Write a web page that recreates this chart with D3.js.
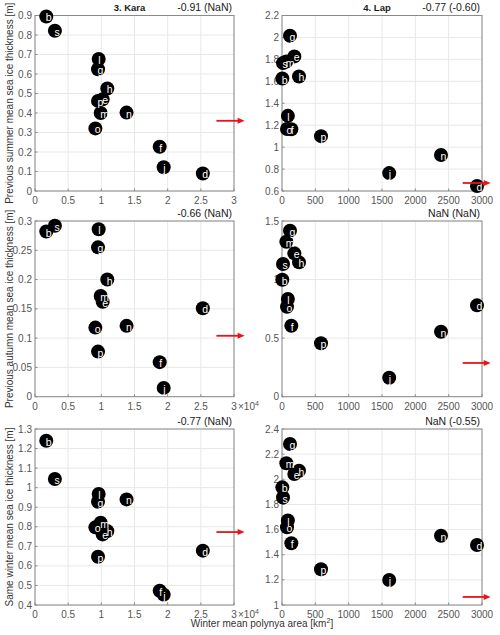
<!DOCTYPE html>
<html>
<head>
<meta charset="utf-8">
<script src="https://cdn.jsdelivr.net/npm/d3@7"></script>
<style>
  body { margin: 0; background: #fff; }
  text { font-family: "Liberation Sans", Arial, sans-serif; }
</style>
</head>
<body>
<svg id="fig" width="500" height="635"></svg>
<script>
// point labels, same order in every panel
const labels = ["b", "s", "l", "g", "h", "p", "e", "m", "n", "o", "f", "j", "d"];

// Kara: winter mean polynya area (x 10^4 km2) and thicknesses (m)
const karaArea   = [0.17, 0.30, 0.96, 0.95, 1.09, 0.95, 1.02, 0.99, 1.38, 0.91, 1.88, 1.94, 2.53];
const karaSummer = [0.895, 0.822, 0.677, 0.624, 0.526, 0.462, 0.470, 0.400, 0.402, 0.321, 0.227, 0.122, 0.090];
const karaAutumn = [0.282, 0.292, 0.286, 0.255, 0.200, 0.077, 0.162, 0.172, 0.121, 0.118, 0.059, 0.015, 0.151];
const karaWinter = [1.240, 1.044, 0.968, 0.928, 0.778, 0.647, 0.761, 0.821, 0.940, 0.797, 0.473, 0.453, 0.678];

// Laptev: winter mean polynya area (km2) and thicknesses (m)
const lapArea   = [5, 15, 88, 120, 255, 585, 185, 65, 2385, 75, 140, 1608, 2925];
const lapSummer = [1.625, 1.766, 1.285, 2.015, 1.644, 1.100, 1.827, 1.780, 0.928, 1.165, 1.163, 0.763, 0.645];
const lapAutumn = [0.999, 1.133, 0.834, 1.417, 1.147, 0.456, 1.224, 1.323, 0.555, 0.768, 0.606, 0.162, 0.780];
const lapWinter = [1.936, 1.855, 1.672, 2.281, 2.068, 1.284, 2.042, 2.127, 1.551, 1.618, 1.491, 1.199, 1.477];

// red arrows (y value per row), start/end in x data units
const karaArrowY = [0.36, 0.104, 0.773];
const lapArrowY  = [0.673, 0.288, 1.064];
const karaArrowX = [2.735, 3.16];
const lapArrowX  = [2710, 3130];

// correlation strings per row
const karaCorr = ["-0.91 (NaN)", "-0.66 (NaN)", "-0.77 (NaN)"];
const lapCorr  = ["-0.77 (-0.60)", "NaN (NaN)", "NaN (-0.55)"];
const titles = ["3. Kara", "4. Lap"];

const yLabels = [
  "Previous summer mean sea ice thickness [m]",
  "Previous autumn mean sea ice thickness [m]",
  "Same winter mean sea ice thickness [m]"
];
const karaYDomains = [[0, 0.9], [0, 0.3], [0.4, 1.3]];
const karaYSteps = [0.1, 0.05, 0.1];
const lapYDomains = [[0.6, 2.2], [0, 1.5], [1, 2.4]];
const lapYSteps = [0.2, 0.5, 0.2];
const karaXTicks = [0, 0.5, 1, 1.5, 2, 2.5, 3];
const lapXTicks = [0, 500, 1000, 1500, 2000, 2500, 3000];

const svg = d3.select("#fig");

const cols = [[35, 234], [282, 482]];
const rows = [[15.5, 191], [221, 396.7], [429, 605]];

const karaY = [karaSummer, karaAutumn, karaWinter];
const lapY = [lapSummer, lapAutumn, lapWinter];

function ticksFor(dom, step) {
  const n = Math.round((dom[1] - dom[0]) / step);
  return d3.range(n + 1).map(i => +(dom[0] + i * step).toFixed(3));
}

const panels = [];
for (let r = 0; r < 3; r++) {
  panels.push({ col: 0, row: r, xs: karaArea, ys: karaY[r], xDom: [0, 3], xTicks: karaXTicks,
    yDom: karaYDomains[r], yTicks: ticksFor(karaYDomains[r], karaYSteps[r]),
    corr: karaCorr[r], arrowY: karaArrowY[r], arrowX: karaArrowX, exp: r > 0 });
  panels.push({ col: 1, row: r, xs: lapArea, ys: lapY[r], xDom: [0, 3000], xTicks: lapXTicks,
    yDom: lapYDomains[r], yTicks: ticksFor(lapYDomains[r], lapYSteps[r]),
    corr: lapCorr[r], arrowY: lapArrowY[r], arrowX: lapArrowX, exp: false });
}

const fmt = v => String(+v.toFixed(3));

panels.forEach(p => {
  const [x0, x1] = cols[p.col];
  const [y0, y1] = rows[p.row];
  const x = d3.scaleLinear().domain(p.xDom).range([x0, x1]);
  const y = d3.scaleLinear().domain(p.yDom).range([y1, y0]);
  const g = svg.append("g");

  // grid
  g.selectAll(".gx").data(p.xTicks).enter().append("line")
    .attr("x1", d => x(d)).attr("x2", d => x(d)).attr("y1", y0).attr("y2", y1)
    .attr("stroke", "#e8e8e8").attr("stroke-width", 1);
  g.selectAll(".gy").data(p.yTicks).enter().append("line")
    .attr("x1", x0).attr("x2", x1).attr("y1", d => y(d)).attr("y2", d => y(d))
    .attr("stroke", "#e8e8e8").attr("stroke-width", 1);

  // box
  g.append("rect").attr("x", x0).attr("y", y0).attr("width", x1 - x0).attr("height", y1 - y0)
    .attr("fill", "none").attr("stroke", "#8a8a8a").attr("stroke-width", 1);

  // inner ticks
  g.selectAll(".tx").data(p.xTicks).enter().append("line")
    .attr("x1", d => x(d)).attr("x2", d => x(d)).attr("y1", y1).attr("y2", y1 - 2.5)
    .attr("stroke", "#8a8a8a");
  g.selectAll(".ty").data(p.yTicks).enter().append("line")
    .attr("x1", x0).attr("x2", x0 + 2.5).attr("y1", d => y(d)).attr("y2", d => y(d))
    .attr("stroke", "#8a8a8a");

  // tick labels
  g.selectAll(".lx").data(p.xTicks).enter().append("text")
    .attr("x", d => x(d)).attr("y", y1 + 13).attr("text-anchor", "middle")
    .attr("font-size", 10).attr("fill", "#555").text(fmt);
  g.selectAll(".ly").data(p.yTicks).enter().append("text")
    .attr("x", x0 - 3).attr("y", d => y(d) + 3.5).attr("text-anchor", "end")
    .attr("font-size", 10).attr("fill", "#555").text(fmt);

  if (p.exp) {
    const t = g.append("text").attr("x", x1 + 4).attr("y", y1 + 13)
      .attr("font-size", 10).attr("fill", "#555");
    t.append("tspan").text("\u00d710");
    t.append("tspan").attr("dy", -4).attr("font-size", 7).text("4");
  }

  // correlation text
  g.append("text").attr("x", x1 - 2).attr("y", y0 - 4.5).attr("text-anchor", "end")
    .attr("font-size", 10.5).attr("fill", "#1a1a1a").text(p.corr);

  if (p.row === 0) {
    g.append("text").attr("x", (x0 + x1) / 2 - 5).attr("y", y0 - 4.5).attr("text-anchor", "middle")
      .attr("font-size", 9.5).attr("font-weight", "bold").attr("fill", "#1a1a1a").text(titles[p.col]);
  }

  // points
  const pts = labels.map((l, i) => ({ l, vx: p.xs[i], vy: p.ys[i] }));
  g.selectAll(".pt").data(pts).enter().append("circle")
    .attr("cx", d => x(d.vx)).attr("cy", d => y(d.vy)).attr("r", 7).attr("fill", "#000");
  g.selectAll(".pl").data(pts).enter().append("text")
    .attr("x", d => x(d.vx) - 0.5).attr("y", d => y(d.vy) + 5)
    .attr("font-size", 10.5).attr("fill", "#fff").text(d => d.l);

  // red arrow
  const ax0 = x(p.arrowX[0]), ax1 = x(p.arrowX[1]), ay = y(p.arrowY);
  g.append("line").attr("x1", ax0).attr("x2", ax1 - 5).attr("y1", ay).attr("y2", ay)
    .attr("stroke", "#e8141c").attr("stroke-width", 1.8);
  g.append("path")
    .attr("d", `M${ax1},${ay} L${ax1 - 7},${ay - 3} L${ax1 - 7},${ay + 3} Z`)
    .attr("fill", "#e8141c");
});

// y axis labels
rows.forEach((r, i) => {
  const cy = (r[0] + r[1]) / 2;
  svg.append("text").attr("transform", `translate(13,${cy}) rotate(-90)`)
    .attr("text-anchor", "middle").attr("font-size", 10).attr("fill", "#333").text(yLabels[i]);
});

// x axis label
const xl = svg.append("text").attr("x", 262).attr("y", 627).attr("text-anchor", "middle")
  .attr("font-size", 10).attr("fill", "#333");
xl.append("tspan").text("Winter mean polynya area [km");
xl.append("tspan").attr("dy", -4).attr("font-size", 7).text("2");
xl.append("tspan").attr("dy", 4).text("]");
</script>
</body>
</html>
